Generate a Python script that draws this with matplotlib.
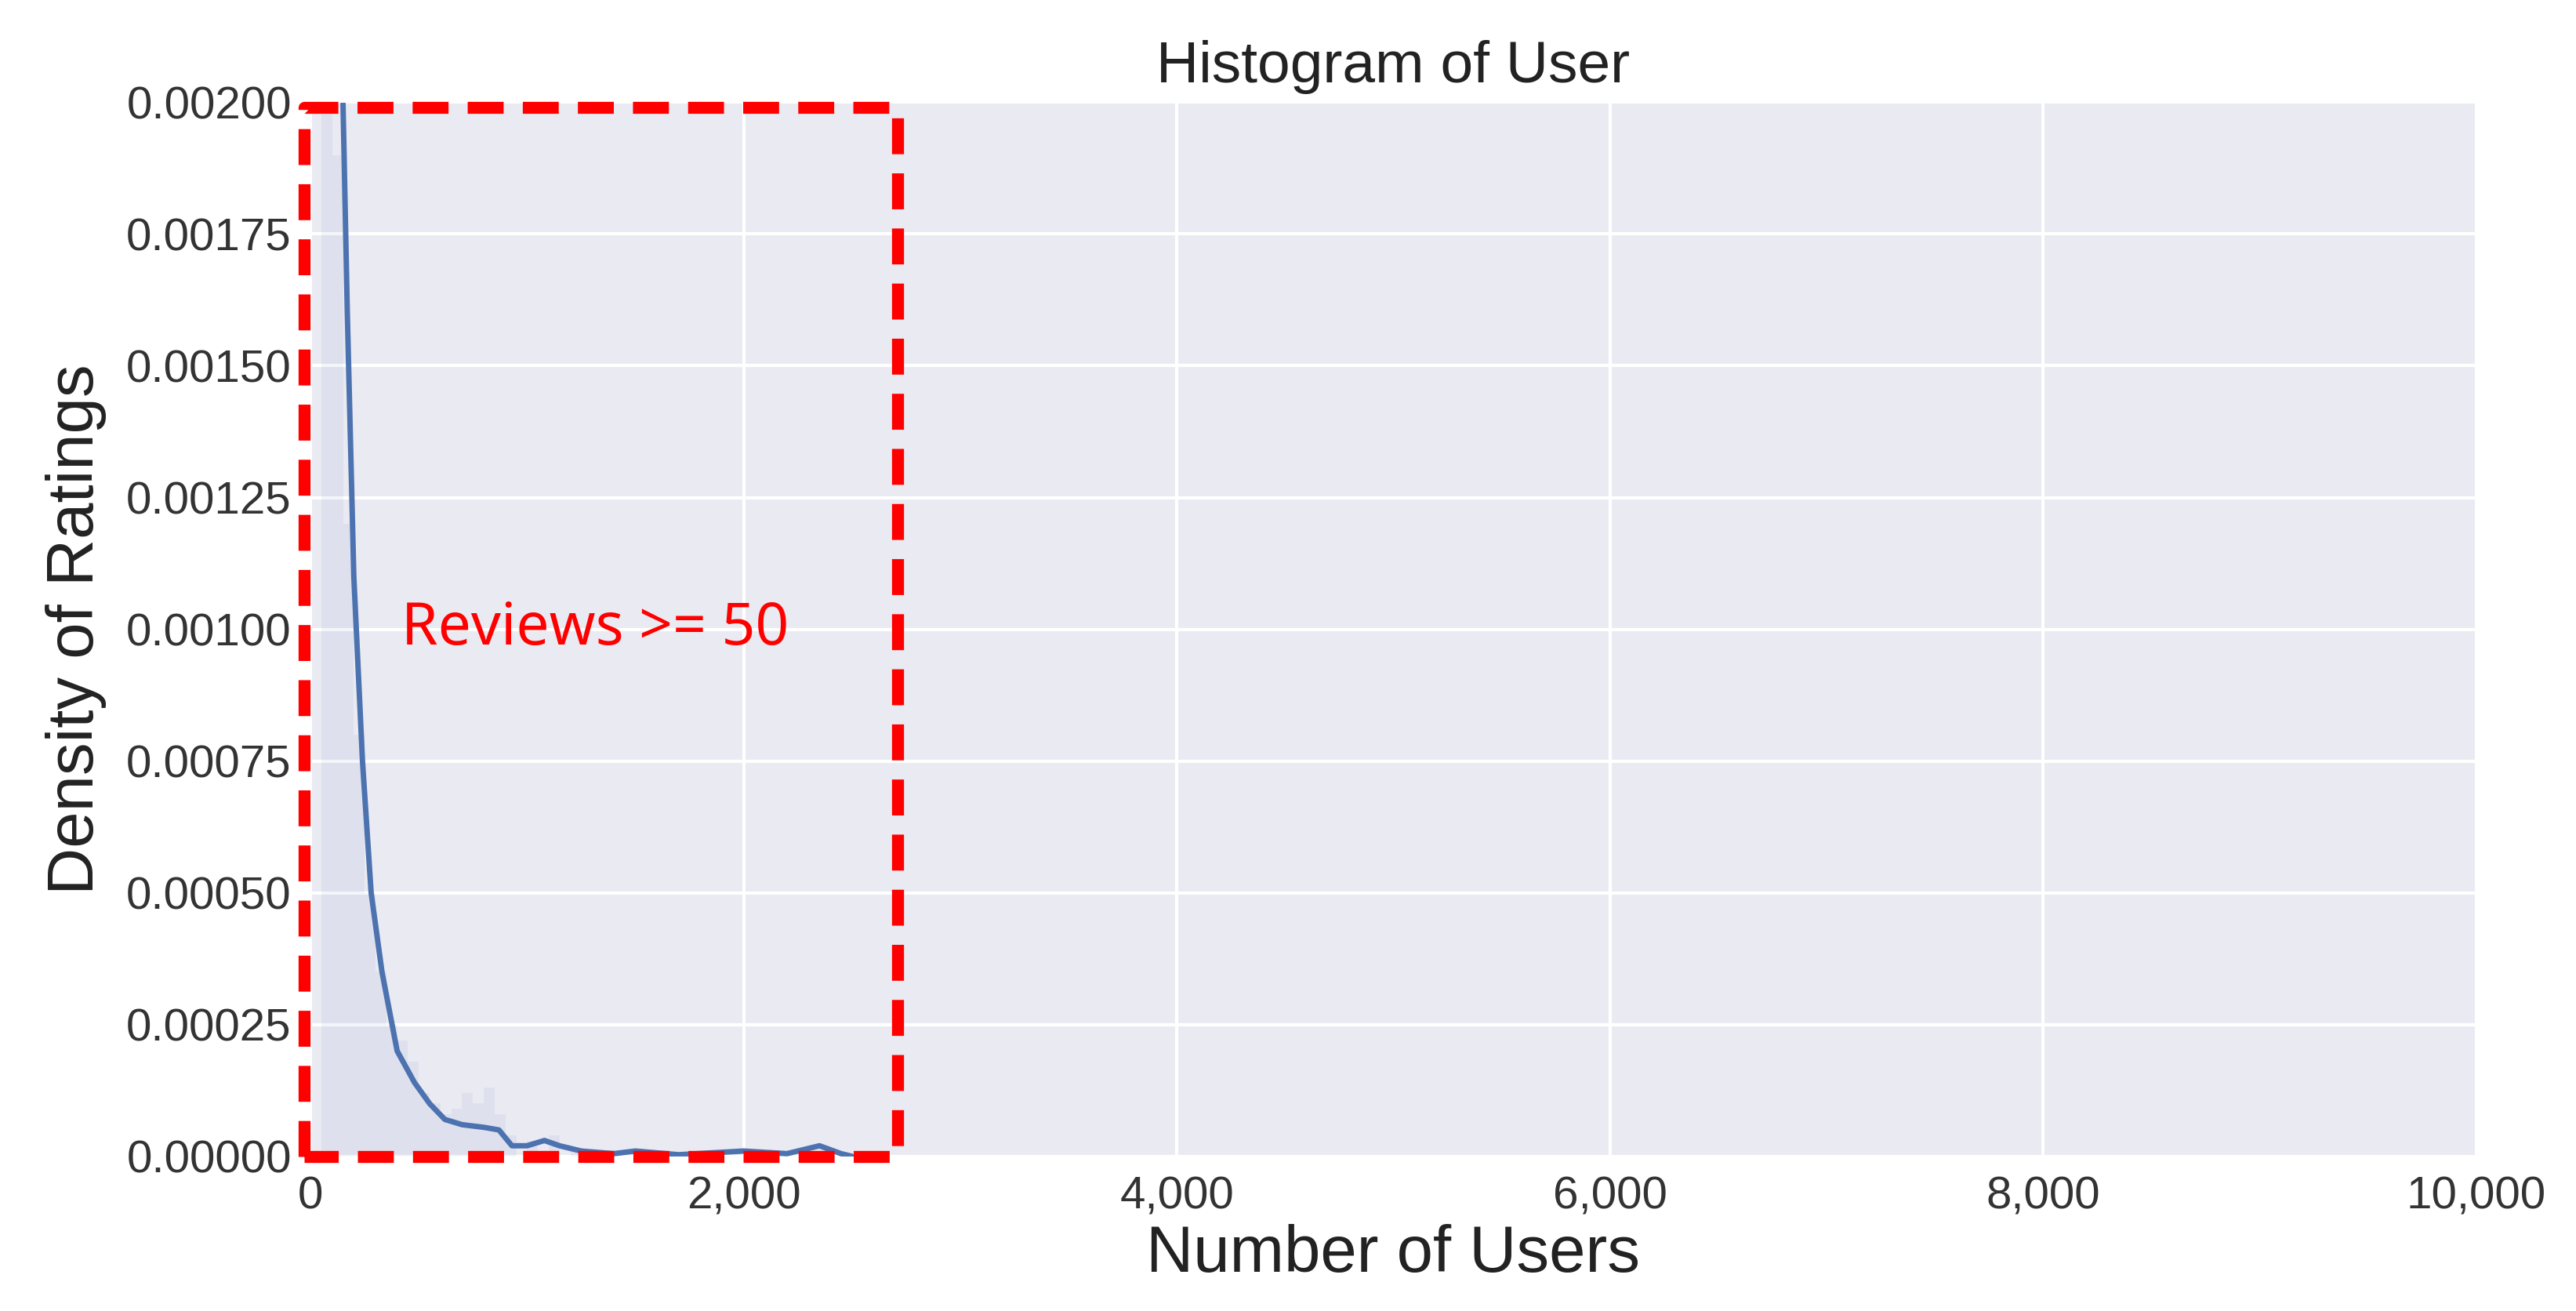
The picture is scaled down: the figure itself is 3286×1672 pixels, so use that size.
import numpy as np
import matplotlib
matplotlib.use("Agg")
import matplotlib.pyplot as plt
import seaborn as sns

# KDE curve
kde_x = [100, 130, 150, 170, 200, 240, 280, 330, 400, 480, 550, 620, 700, 800, 870, 930, 1000, 1080, 1150, 1250, 1400, 1500, 1700, 2000, 2200, 2350, 2450, 2500]
kde_y = [0.0030, 0.0024, 0.0020, 0.0016, 0.0011, 0.00075, 0.0005, 0.00035, 0.0002, 0.00014, 0.0001, 0.00007, 0.00006, 0.000055, 0.00005, 0.00002, 0.00002, 0.00003, 0.00002, 0.00001, 0.000005, 0.00001, 0.000003, 0.00001, 0.000005, 0.00002, 0.000005, 0.0]

# faint histogram bars
bin_left = [50, 100, 150, 200, 250, 300, 350, 400, 450, 500, 550, 600, 650, 700, 750, 800, 850, 900, 1000, 1100, 1200]
bin_h = [0.0021, 0.0019, 0.0012, 0.0008, 0.0005, 0.00035, 0.00025, 0.00022, 0.00018, 0.00012, 0.0001, 0.00008, 0.00009, 0.00012, 0.0001, 0.00013, 0.00008, 0.00004, 0.00003, 0.00004, 0.00001]

sns.set_style("darkgrid")
plt.rcParams['font.family'] = ['Liberation Sans', 'DejaVu Sans']

fig = plt.figure(figsize=(32.87, 16.72), dpi=100)
ax = fig.add_axes([0.1205, 0.118, 0.8405, 0.804])
ax.bar(bin_left, bin_h, width=50, align='edge', color='#4c72b0', alpha=0.07, linewidth=0)
ax.plot(kde_x, kde_y, color='#4c72b0', lw=5)

ax.set_xlim(0, 10000)
ax.set_ylim(0, 0.002)
ax.set_xticks(range(0, 10001, 2000))
ax.set_xticklabels([f"{v:,}" for v in range(0, 10001, 2000)])
ax.set_yticks(np.arange(0, 0.00201, 0.00025))
ax.set_yticklabels([f"{v:.5f}" for v in np.arange(0, 0.00201, 0.00025)])
ax.tick_params(labelsize=42, colors='#333333', pad=14)
ax.set_title("Histogram of User", fontsize=54, color='#222222', pad=18)
ax.set_xlabel("Number of Users", fontsize=60, color='#222222', labelpad=6)
ax.set_ylabel("Density of Ratings", fontsize=60, color='#222222', labelpad=18)
ax.grid(color='white', lw=3)

ax.plot([-30, -30, 2710, 2710, -30], [0, 0.00199, 0.00199, 0, 0], color='red', lw=11,
        ls=(0, (3, 1.6)), clip_on=False, zorder=5)
ax.text(420, 0.001, "Reviews >= 50", color='red', fontsize=54, va='center',
        family=['Noto Sans', 'DejaVu Sans'])

fig.savefig("out.png")
